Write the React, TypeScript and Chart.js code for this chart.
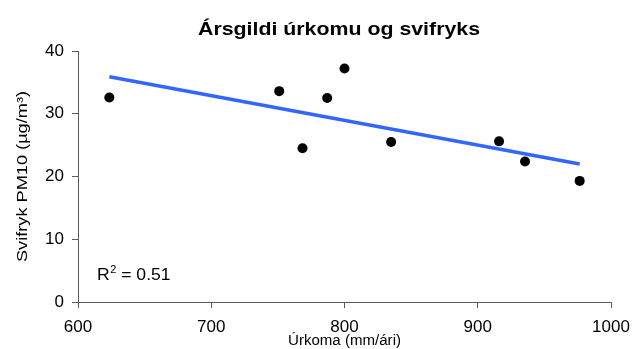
import React, { useEffect, useRef } from "react";
import { Chart, registerables } from "chart.js";

Chart.register(...registerables);

const chartTitle = "Ársgildi úrkomu og svifryks";
const xAxisTitle = "Úrkoma (mm/ári)";
const yAxisTitle = "Svifryk PM10 (µg/m³)";
const r2Base = "R";
const r2Sup = "2";
const r2Rest = " = 0.51";

const precipitation = [623.5, 751, 768.5, 787, 800, 835, 916, 935.5, 976.5];
const pm10 = [32.6, 33.6, 24.5, 32.5, 37.2, 25.5, 25.6, 22.4, 19.3];
const trendX = [623.5, 976.5];
const trendY = [35.9, 22.0];
const xTicks = [600, 700, 800, 900, 1000];
const yTicks = [0, 10, 20, 30, 40];

const FONT = "'Liberation Sans', Arial, sans-serif";
const AXIS = "#595959";

function drawFitted(ctx: CanvasRenderingContext2D, text: string, font: string, width: number) {
  ctx.font = font;
  const w = ctx.measureText(text).width;
  ctx.scale(width / w, 1);
  ctx.fillText(text, 0, 0);
}

const textPlugin = {
  id: "texts",
  afterDraw(chart: any) {
    const ctx: CanvasRenderingContext2D = chart.ctx;
    const area = chart.chartArea;
    ctx.save();
    ctx.fillStyle = "#000";
    ctx.textBaseline = "alphabetic";
    ctx.textAlign = "center";
    // title
    ctx.save();
    ctx.translate(339, 35);
    drawFitted(ctx, chartTitle, `bold 19px ${FONT}`, 282);
    ctx.restore();
    // x title
    ctx.save();
    ctx.translate((area.left + area.right) / 2, 345);
    drawFitted(ctx, xAxisTitle, `14px ${FONT}`, 113);
    ctx.restore();
    // y title
    ctx.save();
    ctx.translate(27, (area.top + area.bottom) / 2);
    ctx.rotate(-Math.PI / 2);
    drawFitted(ctx, yAxisTitle, `14px ${FONT}`, 171);
    ctx.restore();
    // R^2 label
    ctx.save();
    ctx.textAlign = "left";
    ctx.translate(97, 280);
    const big = `16px ${FONT}`;
    const small = `10px ${FONT}`;
    ctx.font = big;
    const w1 = ctx.measureText(r2Base).width;
    const w3 = ctx.measureText(r2Rest).width;
    ctx.font = small;
    const w2 = ctx.measureText(r2Sup).width;
    const s = 73 / (w1 + w2 + w3);
    ctx.scale(s, 1);
    ctx.font = big;
    ctx.fillText(r2Base, 0, 0);
    ctx.font = small;
    ctx.fillText(r2Sup, w1 + 0.5, -7);
    ctx.font = big;
    ctx.fillText(r2Rest, w1 + w2 + 0.5, 0);
    ctx.restore();
    ctx.restore();
  },
};

export default function App() {
  const ref = useRef<HTMLCanvasElement | null>(null);
  useEffect(() => {
    if (!ref.current) return;
    const points = precipitation.map((x, i) => ({ x, y: pm10[i] }));
    const trend = trendX.map((x, i) => ({ x, y: trendY[i] }));
    const chart = new Chart(ref.current, {
      type: "scatter",
      data: {
        datasets: [
          {
            label: "PM10",
            data: points,
            backgroundColor: "#000",
            borderColor: "#000",
            pointRadius: 5,
            pointBorderWidth: 0,
            order: 0,
          },
          {
            label: "Trend",
            data: trend,
            showLine: true,
            borderColor: "#3366ff",
            backgroundColor: "#3366ff",
            borderWidth: 3.5,
            pointRadius: 0,
            fill: false,
            order: 1,
          } as any,
        ],
      },
      options: {
        responsive: false,
        animation: false,
        devicePixelRatio: 1,
        layout: { padding: { top: 51, right: 22, left: 0, bottom: 0 } },
        plugins: {
          legend: { display: false },
          title: { display: false },
          tooltip: { enabled: false },
        },
        scales: {
          x: {
            type: "linear",
            min: xTicks[0],
            max: xTicks[xTicks.length - 1],
            afterBuildTicks: (scale: any) => {
              scale.ticks = xTicks.map((v) => ({ value: v }));
            },
            ticks: {
              color: "#000",
              font: { family: FONT, size: 17 },
              padding: 9,
              maxRotation: 0,
              callback: (v: any) => String(v),
            },
            grid: {
              drawOnChartArea: false,
              drawTicks: true,
              tickLength: 6,
              color: AXIS,
            },
            border: { color: AXIS, width: 1 },
            afterFit: (scale: any) => {
              scale.height = 47;
              scale.paddingLeft = 0;
              scale.paddingRight = 0;
            },
          },
          y: {
            type: "linear",
            min: yTicks[0],
            max: yTicks[yTicks.length - 1],
            afterBuildTicks: (scale: any) => {
              scale.ticks = yTicks.map((v) => ({ value: v }));
            },
            ticks: {
              color: "#000",
              font: { family: FONT, size: 17 },
              padding: 8,
              callback: (v: any) => String(v),
            },
            grid: {
              drawOnChartArea: false,
              drawTicks: true,
              tickLength: 6,
              color: AXIS,
            },
            border: { color: AXIS, width: 1 },
            afterFit: (scale: any) => {
              scale.width = 78;
              scale.paddingTop = 0;
              scale.paddingBottom = 0;
            },
          },
        },
      },
      plugins: [textPlugin],
    });
    return () => chart.destroy();
  }, []);
  return (
    <div style={{ position: "absolute", left: 0, top: 0, width: 633, height: 349, background: "#fff" }}>
      <canvas ref={ref} width={633} height={349} style={{ display: "block" }} />
    </div>
  );
}
